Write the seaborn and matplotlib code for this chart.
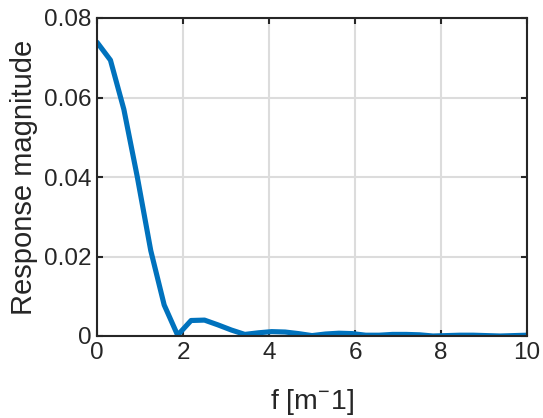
import numpy as np
import pandas as pd
import matplotlib
matplotlib.use("Agg")
import matplotlib.pyplot as plt
import seaborn as sns

freq = [0.0, 0.3125, 0.625, 0.9375, 1.25, 1.5625, 1.875, 2.1875, 2.5, 2.8125,
        3.125, 3.4375, 3.75, 4.0625, 4.375, 4.6875, 5.0, 5.3125, 5.625, 5.9375,
        6.25, 6.5625, 6.875, 7.1875, 7.5, 7.8125, 8.125, 8.4375, 8.75, 9.0625,
        9.375, 9.6875, 10.0]
response = [0.0739, 0.0694, 0.0570, 0.0400, 0.0215, 0.0078, 0.0002, 0.0039, 0.0040, 0.0028,
            0.0015, 0.0004, 0.0008, 0.0011, 0.0010, 0.0006, 0.0001, 0.0005, 0.0007, 0.0006,
            0.0002, 0.0002, 0.0004, 0.0004, 0.0003, 0.0000, 0.0001, 0.0002, 0.0002, 0.0001,
            0.0000, 0.0001, 0.0002]
xticks = [0, 2, 4, 6, 8, 10]
xtick_labels = ["0", "2", "4", "6", "8", "10"]
yticks = [0, 0.02, 0.04, 0.06, 0.08]
ytick_labels = ["0", "0.02", "0.04", "0.06", "0.08"]

sns.set_style("ticks")
plt.rcParams['font.family'] = ['Liberation Sans', 'DejaVu Sans']
plt.rcParams['mathtext.fontset'] = 'custom'
plt.rcParams['mathtext.rm'] = 'Liberation Sans'
plt.rcParams['mathtext.it'] = 'Liberation Sans'

df = pd.DataFrame({"f": freq, "r": response})

fig = plt.figure(figsize=(5.43, 4.18), dpi=100)
ax = fig.add_axes([97/543, 1-336/418, (527-97)/543, (336-18)/418])
sns.lineplot(data=df, x="f", y="r", ax=ax, color="#0072BD", linewidth=3.7)

ax.set_xlim(0, 10)
ax.set_ylim(0, 0.08)
ax.set_xticks(xticks)
ax.set_xticklabels(xtick_labels)
ax.set_yticks(yticks)
ax.set_yticklabels(ytick_labels)
ax.grid(True, color="#dcdcdc", linewidth=1.5)
ax.set_axisbelow(True)
for s in ax.spines.values():
    s.set_visible(True)
    s.set_color("#262626")
    s.set_linewidth(1.5)
ax.tick_params(direction="in", length=4, width=1.5, color="#262626",
               labelsize=17.5, labelcolor="#262626", top=True, right=True, pad=4)
ax.set_xlabel("f [m$^{-}$1]", fontsize=20.5, color="#262626", labelpad=17)
ax.set_ylabel("Response magnitude", fontsize=21, color="#262626", labelpad=4)

fig.savefig("out.png", dpi=100)
